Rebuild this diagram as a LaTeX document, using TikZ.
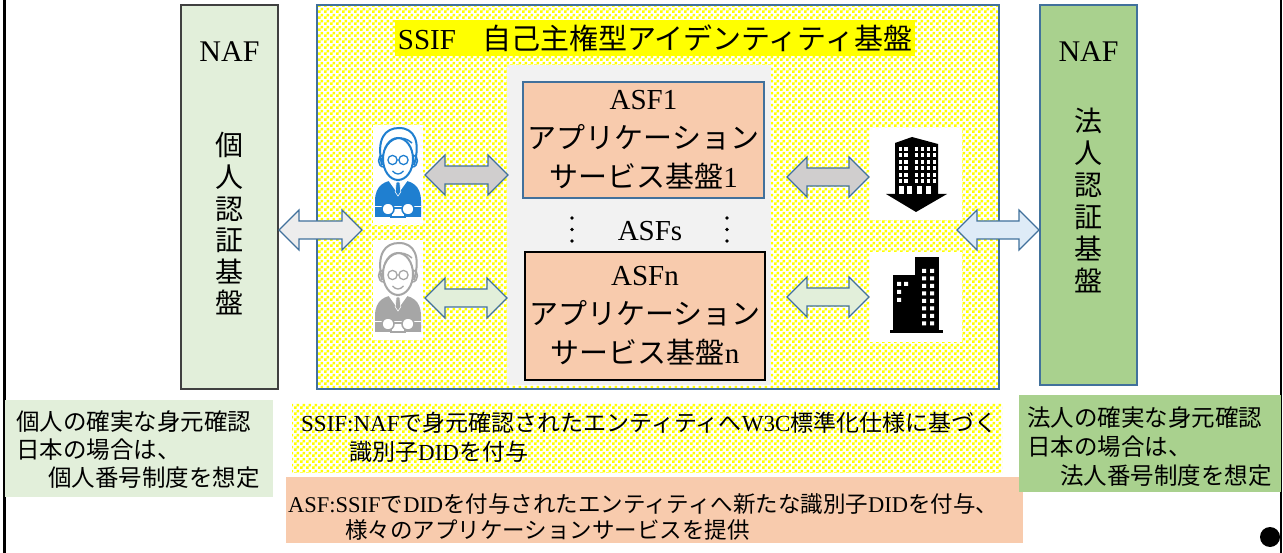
\documentclass[tikz,border=0pt]{standalone}
\usepackage{fontspec}
\setmainfont{Liberation Serif}
\newfontfamily\jp{Noto Sans CJK JP}
\usetikzlibrary{patterns}

\definecolor{nafpale}{HTML}{E2EFDA}
\definecolor{nafgreen}{HTML}{A9D18E}
\definecolor{edgeblue}{HTML}{41719C}
\definecolor{edgedark}{HTML}{404040}
\definecolor{panelgray}{HTML}{F2F2F2}
\definecolor{asfpeach}{HTML}{F8CBAD}
\definecolor{arrowgray}{HTML}{D0CECE}
\definecolor{arrowlight}{HTML}{EDEDED}
\definecolor{arrowblue}{HTML}{DEEBF7}
\definecolor{personblue}{HTML}{1F7FD0}
\definecolor{persongray}{HTML}{A6A6A6}
\definecolor{checkyellow}{HTML}{FFFF00}

% fine yellow/white checker used for the SSIF areas
\pgfdeclarepatternformonly{ycheck}{\pgfpointorigin}{\pgfpoint{6pt}{6pt}}{\pgfpoint{6pt}{6pt}}{%
  \pgfpathrectangle{\pgfpointorigin}{\pgfpoint{3pt}{3pt}}%
  \pgfpathrectangle{\pgfpoint{3pt}{3pt}}{\pgfpoint{3pt}{3pt}}%
  \pgfusepath{fill}}

\newcommand\fs[2]{\fontsize{#1}{#2}\selectfont}
\newcommand\J[1]{{\jp #1}}

% double-headed block arrow: left x, right x, centre y, fill colour
\newcommand\blkarrow[4]{%
  \filldraw[blkarr, fill=#4] (#1,#3) -- ({#1+20},{#3-20}) -- ({#1+20},{#3-9})
    -- ({#2-20},{#3-9}) -- ({#2-20},{#3-20}) -- (#2,#3) -- ({#2-20},{#3+20})
    -- ({#2-20},{#3+9}) -- ({#1+20},{#3+9}) -- ({#1+20},{#3+20}) -- cycle;}

\tikzset{
  blkarr/.style={draw=edgeblue, line width=1.1, line join=miter},
  box/.style={inner sep=0, outer sep=0},
  yellowarea/.style={preaction={fill=white}, pattern=ycheck, pattern color=checkyellow},
  person/.pic={
    \fill[white] (0,0) rectangle (50,100);
    % body
    \fill[pc] (2,92) -- (2,76) .. controls (2,60) and (12,55) .. (25,55)
      .. controls (38,55) and (48,60) .. (48,76) -- (48,92) -- cycle;
    \draw[white, line width=1] (2,82) -- (48,82);
    % collar and tie
    \fill[white] (15,55) -- (25,69) -- (35,55) -- cycle;
    \filldraw[fill=pc, draw=white, line width=0.6] (23.3,57) -- (26.7,57) -- (27.8,67) -- (25,71) -- (22.2,67) -- cycle;
    % face
    \filldraw[fill=white, draw=pc, line width=2] (25,34) ellipse [x radius=15, y radius=21];
    % hair
    \draw[pc, line width=2] (9,40) .. controls (3,14) and (12,3) .. (26,3)
      .. controls (41,3) and (48,16) .. (41,40);
    \draw[pc, line width=1.5] (12,24) .. controls (17,13) and (29,9) .. (39,18);
    % ears
    \draw[pc, line width=1.6] (10,30) .. controls (4,30) and (4,42) .. (11,42);
    \draw[pc, line width=1.6] (40,30) .. controls (46,30) and (46,42) .. (39,42);
    % glasses
    \draw[pc, line width=1.3] (19.5,35) circle [radius=4.6] (30.5,35) circle [radius=4.6] (24.1,35) -- (25.9,35);
    % smile
    \draw[pc, line width=1.3] (19.5,46) .. controls (23,50) and (27,50) .. (30.5,46);
    % hands holding a card
    \filldraw[fill=white, draw=pc, line width=1.5] (18,83) rectangle (32,92);
    \filldraw[fill=white, draw=pc, line width=1.5] (15,84) circle [radius=6] (35,84) circle [radius=6];
  },
  tower/.pic={
    \fill[white] (0,0) rectangle (92,92);
    \fill[black] (25,15) -- (42,9) -- (68,16) -- (68,66) -- (25,66) -- cycle;
    \fill[black] (16,66) -- (77,66) -- (46,84) -- cycle;
    \foreach \c in {28.5,34} {\foreach \r in {19,25.5,32,38.5,45,51.5} {\fill[white] (\c,\r) rectangle ++(3.5,4);}}
    \foreach \c in {45,51,57,63} {\foreach \r in {19,25.5,32,38.5,45,51.5} {\fill[white] (\c,\r) rectangle ++(3,4);}}
    \foreach \c in {29,37,47,56} {\fill[white] (\c,58) rectangle ++(5,8);}
  },
  block/.pic={
    \fill[white] (0,0) rectangle (92,90);
    \fill[black] (45,5) rectangle (69,80);
    \fill[black] (23,23) rectangle (45,80);
    \fill[black] (20,78) rectangle (73,81.5);
    \foreach \r in {17,24.5,32,39.5,47,54.5,62,69.5} {\fill[white] (52,\r) rectangle ++(4,4) (60,\r) rectangle ++(4,4);}
    \fill[white] (27,30) rectangle ++(4,4) (34,30) rectangle ++(4,4) (27,38) rectangle ++(4,4) (27,46) rectangle ++(4,4);
  }
}

\begin{document}
\begin{tikzpicture}[x=1pt, y=-1pt]
\useasboundingbox (0,0) rectangle (1283,553);

% side rules
\draw[line width=2.5] (4.5,0) -- (4.5,553);
\draw[line width=2.5] (1281,0) -- (1281,553);

% personal and corporate authentication columns
\node[box, draw=edgedark, line width=1.3, fill=nafpale, minimum width=97, minimum height=384] (nafP) at (229.5,197) {};
\node[box, draw=edgeblue, line width=1.3, fill=nafgreen, minimum width=97, minimum height=380] (nafC) at (1088.5,195) {};
\node[font=\fs{30}{32}] (nafPt) at (229.5,52) {NAF};
\node[font=\fs{30}{32}] (nafCt) at (1088.5,52) {NAF};
\node[font=\jp\fs{28}{31.6}, align=center, inner sep=0] (nafPv) at (229.5,224) {個\\人\\認\\証\\基\\盤};
\node[font=\jp\fs{28}{32}, align=center, inner sep=0] (nafCv) at (1088.5,200) {法\\人\\認\\証\\基\\盤};

% SSIF area
\node[box, draw=edgeblue, line width=1.1, yellowarea, minimum width=682, minimum height=384] (ssif) at (658,197) {};
\node[fill=checkyellow, font=\fs{29}{32}, inner xsep=3, inner ysep=0, minimum height=36] (title) at (655,38)
  {SSIF\hspace{0.9em}\J{自己主権型アイデンティティ基盤}};

% application service panel
\node[box, fill=panelgray, minimum width=264, minimum height=320] (panel) at (639,225) {};
\node[box, draw=edgeblue, line width=1.1, fill=asfpeach, minimum width=241, minimum height=116,
  font=\fs{29}{39}, align=center] (asf1) at (643.5,140) {ASF1\\\J{アプリケーション}\\\J{サービス基盤}1};
\node[box, draw=black, line width=1.1, fill=asfpeach, minimum width=240, minimum height=128,
  font=\fs{29}{39}, align=center] (asfn) at (645,316) {ASFn\\\J{アプリケーション}\\\J{サービス基盤}n};
\node[font=\fs{29}{32}] (asfs) at (650,231) {ASFs};
\foreach \x in {572,727} {\foreach \y in {218,229.5,241} {\fill (\x,\y) circle [radius=1.9];}}

% users and organisations
\begin{scope}\colorlet{pc}{personblue}\pic (p1) at (373,125) {person};\end{scope}
\begin{scope}\colorlet{pc}{persongray}\pic (p2) at (373,240) {person};\end{scope}
\pic (b1) at (870,128) {tower};
\pic (b2) at (870,252) {block};

% block arrows
\blkarrow{279}{362}{230}{arrowlight}
\blkarrow{957}{1039}{230}{arrowblue}
\blkarrow{425}{508}{175}{arrowgray}
\blkarrow{425}{507}{298}{nafpale}
\blkarrow{787}{869}{177}{arrowgray}
\blkarrow{787}{869}{297}{nafpale}

% notes along the bottom
\node[box, fill=nafpale, anchor=north west, minimum width=268, minimum height=97] (noteP) at (5,400) {};
\node[inner sep=0, anchor=west, align=left, font=\jp\fs{23.5}{28}] (notePt) at (16,450)
  {個人の確実な身元確認\\日本の場合は、\\\hspace*{32pt}個人番号制度を想定};
\node[box, yellowarea, anchor=north west, minimum width=710, minimum height=69] (noteS) at (292,403) {};
\node[inner sep=0, anchor=west, align=left, font=\fs{23}{29}] (noteSt) at (301,437.5)
  {SSIF:NAF\J{で身元確認されたエンティティへ}W3C\J{標準化仕様に基づく}\\\hspace*{48pt}\J{識別子}DID\J{を付与}};
\node[box, fill=asfpeach, anchor=north west, minimum width=737, minimum height=66] (noteA) at (286,477) {};
\node[inner sep=0, anchor=west, align=left, font=\fs{22.5}{26}] (noteAt) at (288,517)
  {ASF:SSIF\J{で}DID\J{を付与されたエンティティへ新たな識別子}DID\J{を付与、}\\\hspace*{57pt}\J{様々のアプリケーションサービスを提供}};
\node[box, fill=nafgreen, anchor=north west, minimum width=262, minimum height=97] (noteC) at (1019,395) {};
\node[inner sep=0, anchor=west, align=left, font=\jp\fs{23.5}{29}] (noteCt) at (1027,447)
  {法人の確実な身元確認\\日本の場合は、\\\hspace*{33pt}法人番号制度を想定};

% corner mark
\fill (1270,537) circle [radius=10];
\end{tikzpicture}
\end{document}
